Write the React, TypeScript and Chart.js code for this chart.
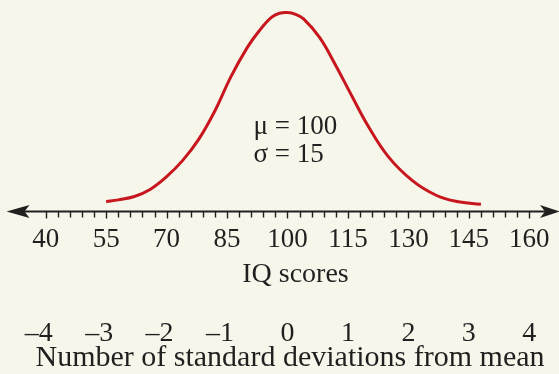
import { useEffect, useRef } from "react";
import { Chart, registerables } from "chart.js";

Chart.register(...registerables);

// Bell curve of IQ scores: relative height (peak = 100) at selected scores
const CURVE_IQ = [55, 58, 62, 66, 70, 74, 78, 82, 86, 90, 93, 96, 98, 100, 102, 104, 108, 112, 116, 120, 125, 131, 137, 142, 148];
const CURVE_HEIGHT = [4.7, 5.6, 7.3, 11.0, 17.3, 25.5, 36.2, 50.5, 67.8, 82.3, 90.8, 97.5, 99.6, 100, 99.1, 96.8, 87.3, 73.2, 57.8, 42.8, 27.4, 15.3, 7.8, 4.8, 3.4];

// Number line
const IQ_TICK_VALUES = [40, 55, 70, 85, 100, 115, 130, 145, 160];
const IQ_TICK_LABELS = ["40", "55", "70", "85", "100", "115", "130", "145", "160"];
const MINOR_STEP = 3;
const SD_VALUES = [-4, -3, -2, -1, 0, 1, 2, 3, 4];
const SD_LABELS = ["\u20134", "\u20133", "\u20132", "\u20131", "0", "1", "2", "3", "4"];
const MEAN = 100;
const STD_DEV = 15;

const IQ_TITLE = "IQ scores";
const SD_TITLE = "Number of standard deviations from mean";
const PARAM_LINES = ["\u03bc = 100", "\u03c3 = 15"];

const BG = "#f6f7ea";
const INK = "#231f20";
const CURVE_RED = "#c8161f";
const SERIF = '"Liberation Serif", "Times New Roman", serif';

const numberLinePlugin = {
  id: "numberLine",
  beforeDraw(chart: any) {
    const { ctx, width, height } = chart;
    ctx.save();
    ctx.fillStyle = BG;
    ctx.fillRect(0, 0, width, height);
    ctx.restore();
  },
  afterDatasetsDraw(chart: any) {
    const { ctx, chartArea, scales } = chart;
    const xs = scales.x;
    const axisY = chartArea.bottom + 0.5;
    ctx.save();
    ctx.strokeStyle = INK;
    ctx.fillStyle = INK;

    // axis line
    ctx.lineWidth = 2;
    ctx.beginPath();
    ctx.moveTo(22, axisY);
    ctx.lineTo(548, axisY);
    ctx.stroke();

    // arrow heads
    const arrow = (tip: number, dir: number, len: number) => {
      ctx.beginPath();
      ctx.moveTo(tip, axisY);
      ctx.lineTo(tip + dir * len, axisY - 6.5);
      ctx.lineTo(tip + dir * (len - 5), axisY);
      ctx.lineTo(tip + dir * len, axisY + 6.5);
      ctx.closePath();
      ctx.fill();
    };
    arrow(6.5, 1, 23);
    arrow(560, -1, 20);

    // tick marks every MINOR_STEP points
    ctx.lineWidth = 1.4;
    const first = IQ_TICK_VALUES[0];
    const last = IQ_TICK_VALUES[IQ_TICK_VALUES.length - 1];
    for (let v = first; v <= last; v += MINOR_STEP) {
      const px = Math.round(xs.getPixelForValue(v)) + 0.5;
      const major = IQ_TICK_VALUES.includes(v);
      ctx.beginPath();
      ctx.moveTo(px, axisY);
      ctx.lineTo(px, axisY + (major ? 7 : 6));
      ctx.stroke();
    }

    // IQ labels
    ctx.textAlign = "center";
    ctx.textBaseline = "alphabetic";
    ctx.font = `27px ${SERIF}`;
    IQ_TICK_VALUES.forEach((v, i) => {
      ctx.fillText(IQ_TICK_LABELS[i], xs.getPixelForValue(v), 247);
    });
    ctx.font = `28px ${SERIF}`;
    ctx.fillText(IQ_TITLE, xs.getPixelForValue(MEAN) + 8, 282);

    // standard deviation labels: the digit sits under the tick, the minus hangs left
    ctx.font = `28px ${SERIF}`;
    ctx.textAlign = "right";
    SD_VALUES.forEach((s, i) => {
      const label = SD_LABELS[i];
      const digitW = ctx.measureText(label.slice(-1)).width;
      ctx.fillText(label, xs.getPixelForValue(MEAN + s * STD_DEV) + digitW / 2, 341);
    });
    ctx.textAlign = "center";
    ctx.font = `30px ${SERIF}`;
    ctx.fillText(SD_TITLE, 290, 366);

    // parameters
    ctx.textAlign = "left";
    ctx.font = `27px ${SERIF}`;
    const tx = xs.getPixelForValue(MEAN) - 34;
    ctx.fillText(PARAM_LINES[0], tx, 134);
    ctx.fillText(PARAM_LINES[1], tx, 162);
    ctx.restore();
  },
};

export default function App() {
  const canvasRef = useRef<HTMLCanvasElement | null>(null);

  useEffect(() => {
    const canvas = canvasRef.current;
    if (!canvas) return;
    const chart = new Chart(canvas, {
      type: "line",
      data: {
        datasets: [
          {
            data: CURVE_IQ.map((v, i) => ({ x: v, y: CURVE_HEIGHT[i] })),
            borderColor: CURVE_RED,
            borderWidth: 3,
            pointRadius: 0,
            fill: false,
            tension: 0.4,
            borderCapStyle: "butt",
          },
        ],
      },
      options: {
        animation: false,
        responsive: false,
        layout: { padding: { left: 0, right: 0, top: 0, bottom: 163 } },
        plugins: { legend: { display: false }, tooltip: { enabled: false } },
        scales: {
          x: { type: "linear", display: false, min: 28.66, max: 167.37 },
          y: { type: "linear", display: false, min: 0, max: 106.3 },
        },
        clip: false,
      } as any,
      plugins: [numberLinePlugin],
    });
    return () => chart.destroy();
  }, []);

  return (
    <div style={{ position: "absolute", left: 0, top: 0, width: 559, height: 374, background: BG }}>
      <canvas ref={canvasRef} width={559} height={374} style={{ display: "block" }} />
    </div>
  );
}
